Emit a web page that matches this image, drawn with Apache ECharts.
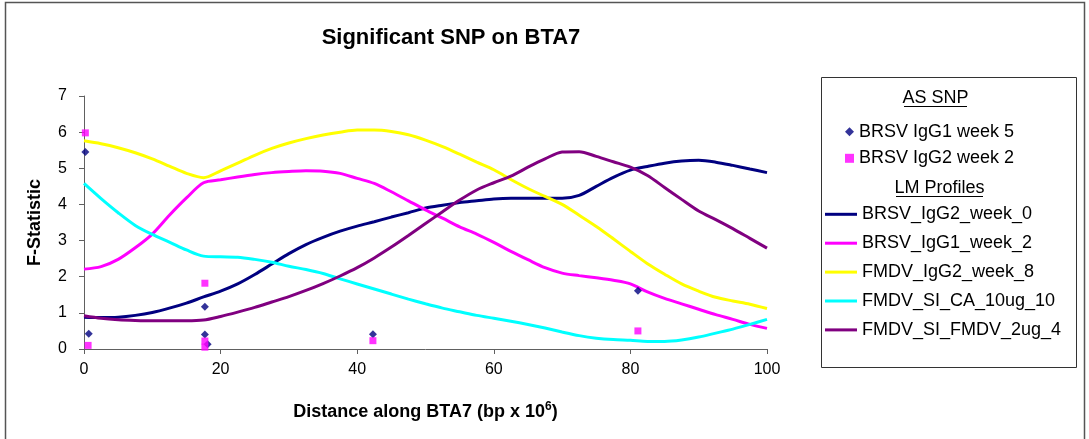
<!DOCTYPE html>
<html>
<head>
<meta charset="utf-8">
<title>Significant SNP on BTA7</title>
<script src="https://cdn.jsdelivr.net/npm/echarts@6/dist/echarts.min.js"></script>
<style>
  html, body { margin: 0; padding: 0; background: #ffffff; }
  #chart { width: 1089px; height: 439px; }
</style>
</head>
<body>
<div id="chart"></div>
<script>
// Positions along the chromosome (bp x 10^6) where the LM profiles are sampled
const distance = [0, 2.5, 5, 7.5, 10, 12.5, 15, 17.5, 20, 22.5, 25, 27.5, 30, 32.5, 35, 37.5, 40, 42.5, 45, 47.5, 50,
                  52.5, 55, 57.5, 60, 62.5, 65, 67.5, 70, 72.5, 75, 77.5, 80, 82.5, 85, 87.5, 90, 92.5, 95, 97.5, 100];

// LM profile F-statistics
const brsvIgG2Week0 = [0.88, 0.87, 0.88, 0.93, 1.01, 1.13, 1.27, 1.44, 1.6, 1.8, 2.06, 2.35, 2.64, 2.89, 3.09, 3.26, 3.4, 3.52, 3.65, 3.77, 3.9,
                       3.98, 4.05, 4.1, 4.15, 4.17, 4.17, 4.17, 4.17, 4.25, 4.5, 4.75, 4.95, 5.05, 5.14, 5.2, 5.22, 5.17, 5.08, 4.98, 4.88];
const brsvIgG1Week2 = [2.21, 2.28, 2.48, 2.8, 3.18, 3.7, 4.18, 4.6, 4.68, 4.76, 4.83, 4.88, 4.91, 4.93, 4.92, 4.86, 4.72, 4.58, 4.35, 4.1, 3.85,
                       3.62, 3.38, 3.18, 2.95, 2.7, 2.47, 2.25, 2.1, 2.03, 1.97, 1.9, 1.8, 1.58, 1.4, 1.25, 1.1, 0.95, 0.82, 0.68, 0.57];
const fmdvIgG2Week8 = [5.76, 5.68, 5.57, 5.43, 5.26, 5.06, 4.86, 4.74, 4.93, 5.14, 5.36, 5.55, 5.7, 5.82, 5.92, 6.0, 6.06, 6.06, 6.02, 5.93, 5.78,
                       5.6, 5.39, 5.17, 4.96, 4.69, 4.44, 4.22, 4.0, 3.7, 3.39, 3.05, 2.7, 2.36, 2.07, 1.8, 1.6, 1.43, 1.33, 1.24, 1.12];
const fmdvSiCa10ug10 = [4.58, 4.16, 3.77, 3.42, 3.17, 2.96, 2.74, 2.57, 2.55, 2.54, 2.48, 2.4, 2.29, 2.2, 2.09, 1.94, 1.8, 1.66, 1.52, 1.38, 1.25,
                        1.13, 1.03, 0.93, 0.85, 0.77, 0.68, 0.58, 0.47, 0.37, 0.3, 0.26, 0.24, 0.21, 0.21, 0.25, 0.33, 0.44, 0.55, 0.68, 0.82];
const fmdvSiFmdv2ug4 = [0.92, 0.85, 0.81, 0.79, 0.78, 0.78, 0.78, 0.8, 0.9, 1.02, 1.15, 1.3, 1.45, 1.62, 1.81, 2.02, 2.25, 2.52, 2.82, 3.14, 3.47,
                        3.8, 4.12, 4.4, 4.6, 4.78, 5.03, 5.26, 5.45, 5.46, 5.33, 5.18, 5.03, 4.8, 4.47, 4.14, 3.82, 3.58, 3.33, 3.06, 2.79];

// Associated SNPs: position and F-statistic
const snpIgG1Week5Pos = [0.2, 0.7, 17.7, 17.7, 18.1, 42.3, 81.1];
const snpIgG1Week5F   = [5.45, 0.42, 1.17, 0.4, 0.13, 0.41, 1.61];
const snpIgG2Week2Pos = [0.2, 0.6, 17.7, 17.7, 17.7, 42.3, 81.1];
const snpIgG2Week2F   = [5.98, 0.1, 1.82, 0.22, 0.05, 0.23, 0.5];

// Axis ticks
const xTicks = { min: 0, max: 100, step: 20 };
const yTicks = { min: 0, max: 7, step: 1 };

const FONT = '"Liberation Sans", Arial, sans-serif';

const profiles = [
  { name: 'BRSV_IgG2_week_0',   values: brsvIgG2Week0,  color: '#000080' },
  { name: 'BRSV_IgG1_week_2',   values: brsvIgG1Week2,  color: '#FF00FF' },
  { name: 'FMDV_IgG2_week_8',   values: fmdvIgG2Week8,  color: '#FFFF00' },
  { name: 'FMDV_SI_CA_10ug_10', values: fmdvSiCa10ug10, color: '#00FFFF' },
  { name: 'FMDV_SI_FMDV_2ug_4', values: fmdvSiFmdv2ug4, color: '#800080' }
];

const pairs = (xs, ys) => xs.map((x, i) => [x, ys[i]]);

const lineSeries = profiles.map((p, i) => ({
  name: p.name,
  type: 'line',
  data: pairs(distance, p.values),
  showSymbol: false,
  smooth: 0.3,
  lineStyle: { color: p.color, width: 3 },
  itemStyle: { color: p.color },
  z: 2 + i * 0.01
}));

const snpSeries = [
  {
    name: 'BRSV IgG1 week 5',
    type: 'scatter',
    data: pairs(snpIgG1Week5Pos, snpIgG1Week5F),
    symbol: 'diamond',
    symbolSize: 8,
    itemStyle: { color: '#000080' },
    z: 5
  },
  {
    name: 'BRSV IgG2 week 2',
    type: 'scatter',
    data: pairs(snpIgG2Week2Pos, snpIgG2Week2F),
    symbol: 'rect',
    symbolSize: 7,
    itemStyle: { color: '#FF00FF' },
    z: 5
  }
];

const chart = echarts.init(document.getElementById('chart'), null, { renderer: 'canvas' });

chart.setOption({
  animation: false,
  backgroundColor: '#ffffff',
  textStyle: { fontFamily: FONT },
  grid: { left: 84, right: 322, top: 96, bottom: 90, containLabel: false },
  xAxis: {
    type: 'value',
    min: xTicks.min, max: xTicks.max, interval: xTicks.step,
    name: 'Distance along BTA7 (bp x 10{sup|6})',
    nameLocation: 'middle',
    nameGap: 52,
    nameTextStyle: {
      fontFamily: FONT, fontSize: 18, fontWeight: 'bold', color: '#000', lineHeight: 22,
      rich: { sup: { fontFamily: FONT, fontSize: 12, fontWeight: 'bold', color: '#000', verticalAlign: 'top', lineHeight: 22 } }
    },
    splitLine: { show: false },
    axisLine: { onZero: false, lineStyle: { color: '#606060', width: 1 } },
    axisTick: { show: true, inside: false, length: 5, lineStyle: { color: '#606060' } },
    axisLabel: { fontFamily: FONT, fontSize: 16, color: '#000', margin: 13 }
  },
  yAxis: {
    type: 'value',
    min: yTicks.min, max: yTicks.max, interval: yTicks.step,
    name: 'F-Statistic',
    nameLocation: 'middle',
    nameGap: 40,
    nameTextStyle: { fontFamily: FONT, fontSize: 18, fontWeight: 'bold', color: '#000' },
    splitLine: { show: false },
    axisLine: { show: true, lineStyle: { color: '#606060', width: 1 } },
    axisTick: { show: true, inside: false, length: 5, lineStyle: { color: '#606060' } },
    axisLabel: { fontFamily: FONT, fontSize: 16, color: '#000', margin: 17 }
  },
  legend: [
    {
      data: snpSeries.map(s => s.name),
      orient: 'vertical',
      left: 845, top: 122.7,
      padding: 0,
      itemWidth: 9, itemHeight: 9,
      itemGap: 8.6,
      selectedMode: false,
      textStyle: { fontFamily: FONT, fontSize: 18, color: '#000', lineHeight: 18 }
    },
    {
      data: profiles.map(p => p.name),
      orient: 'vertical',
      left: 825, top: 205.3,
      padding: 0,
      icon: 'rect',
      itemWidth: 32, itemHeight: 3,
      itemGap: 10.9,
      selectedMode: false,
      textStyle: { fontFamily: FONT, fontSize: 18, color: '#000', lineHeight: 18 }
    }
  ],
  graphic: [
    // outer chart frame
    { type: 'rect', silent: true, z: -1,
      shape: { x: 5.5, y: 2.5, width: 1079, height: 470 },
      style: { fill: 'none', stroke: '#555555', lineWidth: 1.5 } },
    // chart title
    { type: 'text', silent: true,
      style: { text: 'Significant SNP on BTA7', x: 451, y: 38, align: 'center', verticalAlign: 'middle',
               font: 'bold 22px ' + FONT, fill: '#000' } },
    // legend frame
    { type: 'rect', silent: true, z: -1,
      shape: { x: 821.5, y: 77.5, width: 255, height: 290 },
      style: { fill: 'none', stroke: '#333333', lineWidth: 1 } },
    // legend group headings (underlined)
    { type: 'text', silent: true,
      style: { text: 'AS SNP', x: 935.5, y: 98, align: 'center', verticalAlign: 'middle',
               font: '18px ' + FONT, fill: '#000' } },
    { type: 'line', silent: true,
      shape: { x1: 904, y1: 106.5, x2: 967, y2: 106.5 },
      style: { stroke: '#000', lineWidth: 1 } },
    { type: 'text', silent: true,
      style: { text: 'LM Profiles', x: 939.5, y: 188, align: 'center', verticalAlign: 'middle',
               font: '18px ' + FONT, fill: '#000' } },
    { type: 'line', silent: true,
      shape: { x1: 896, y1: 196.5, x2: 983, y2: 196.5 },
      style: { stroke: '#000', lineWidth: 1 } }
  ],
  series: [...lineSeries, ...snpSeries]
});
</script>
</body>
</html>
